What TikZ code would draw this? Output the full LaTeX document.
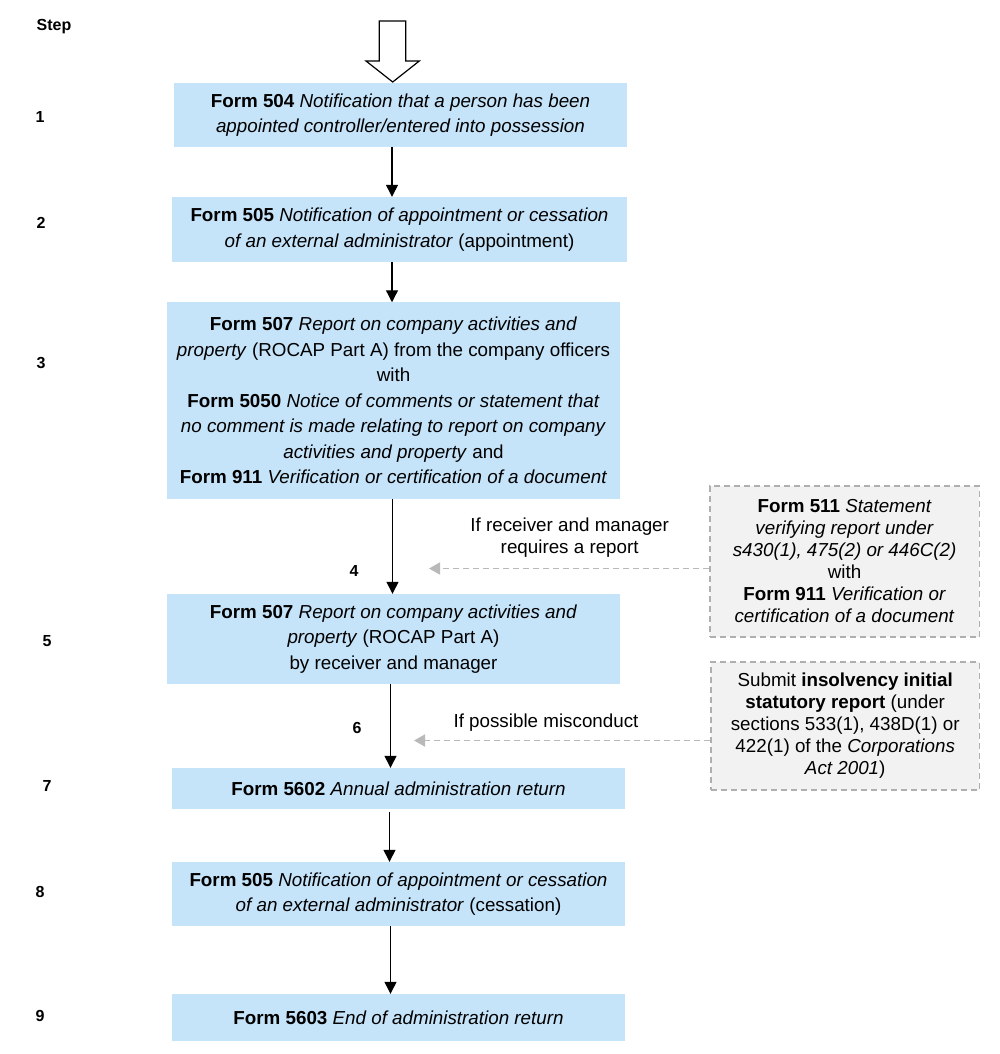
\documentclass[tikz,border=0pt]{standalone}
\usepackage{fontspec}
\setmainfont{Liberation Sans}
\usetikzlibrary{arrows.meta}
\definecolor{boxblue}{RGB}{197,227,249}
\definecolor{grayfill}{RGB}{242,242,242}
\definecolor{grayline}{RGB}{175,175,175}
\definecolor{grayarrow}{RGB}{185,185,185}
\tikzset{
  bluebox/.style={fill=boxblue, draw=none, inner sep=0pt, align=center,
    minimum width=453pt, font=\fontsize{18.8}{25.5}\selectfont},
  graybox/.style={fill=grayfill, draw=grayline, line width=1.3pt, dash pattern=on 6pt off 4pt,
    inner sep=0pt, align=center, font=\fontsize{18.8}{22}\selectfont},
  steplabel/.style={font=\fontsize{16}{19}\selectfont\bfseries, inner sep=0pt},
  condlabel/.style={align=center, inner sep=0pt, font=\fontsize{18.8}{22}\selectfont},
  flow/.style={line width=1.3pt, -{Triangle[length=12pt,width=12pt]}},
  optflow/.style={grayarrow, line width=1.8pt, dash pattern=on 6pt off 4pt,
    -{Triangle[length=11pt,width=12pt]}},
}
\begin{document}
\begin{tikzpicture}[x=1pt,y=-1pt]
\useasboundingbox (0,0) rectangle (1000,1054);

% entry arrow
\draw[line width=1.2pt, fill=white, line join=miter]
  (379.3,21) -- (405.7,21) -- (405.7,61) -- (419.3,61) -- (392.7,82)
  -- (366,61) -- (379.3,61) -- cycle;

% step labels
\node[steplabel] (st) at (54,27) {Step};
\node[steplabel] (s1) at (40,117) {1};
\node[steplabel] (s2) at (41,223) {2};
\node[steplabel] (s3) at (41,363) {3};
\node[steplabel] (s4) at (354,571) {4};
\node[steplabel] (s5) at (47,641) {5};
\node[steplabel] (s6) at (357,728) {6};
\node[steplabel] (s7) at (47,786) {7};
\node[steplabel] (s8) at (40,892) {8};
\node[steplabel] (s9) at (40,1016) {9};

% main boxes
\node[bluebox, minimum height=64pt] (b1) at (400.5,115)
  {\textbf{Form 504} \textit{Notification that a person has been}\\
   \textit{appointed controller/entered into possession}};
\node[bluebox, minimum height=65pt, minimum width=455pt] (b2) at (399.5,229.5)
  {\textbf{Form 505} \textit{Notification of appointment or cessation}\\
   \textit{of an external administrator} (appointment)};
\node[bluebox, minimum height=196.5pt] (b3) at (393.5,400.7)
  {\textbf{Form 507} \textit{Report on company activities and}\\
   \textit{property} (ROCAP Part A) from the company officers\\
   with\\
   \textbf{Form 5050} \textit{Notice of comments or statement that}\\
   \textit{no comment is made relating to report on company}\\
   \textit{activities and property} and\\
   \textbf{Form 911} \textit{Verification or certification of a document}};
\node[bluebox, minimum height=90pt] (b5) at (393.5,639)
  {\textbf{Form 507} \textit{Report on company activities and}\\
   \textit{property} (ROCAP Part A)\\
   by receiver and manager};
\node[bluebox, minimum height=41pt] (b7) at (398.5,788.5)
  {\textbf{Form 5602} \textit{Annual administration return}};
\node[bluebox, minimum height=64pt] (b8) at (398.5,894)
  {\textbf{Form 505} \textit{Notification of appointment or cessation}\\
   \textit{of an external administrator} (cessation)};
\node[bluebox, minimum height=47pt] (b9) at (398.5,1017.5)
  {\textbf{Form 5603} \textit{End of administration return}};

% side boxes
\node[graybox, minimum width=269.5pt, minimum height=151pt] (g1) at (844.6,561.5)
  {\textbf{Form 511} \textit{Statement}\\
   \textit{verifying report under}\\
   \textit{s430(1), 475(2) or 446C(2)}\\
   with\\
   \textbf{Form 911} \textit{Verification or}\\
   \textit{certification of a document}};
\node[graybox, minimum width=268.5pt, minimum height=128pt] (g2) at (845.2,726)
  {Submit \textbf{insolvency initial}\\
   \textbf{statutory report} (under\\
   sections 533(1), 438D(1) or\\
   422(1) of the \textit{Corporations}\\
   \textit{Act 2001})};

% condition labels
\node[condlabel] (c1) at (569.7,537.5) {If receiver and manager\\ requires a report};
\node[condlabel] (c2) at (546,723) {If possible misconduct};

% connectors
\coordinate (x1) at (392,0);
\coordinate (x2) at (392.5,0);
\coordinate (x3) at (390.5,0);
\coordinate (x4) at (389.5,0);
\draw[flow] (b1.south -| x1) -- (b2.north -| x1);
\draw[flow] (b2.south -| x1) -- (b3.north -| x1);
\draw[flow] (b3.south -| x2) -- (b5.north -| x2);
\draw[flow] (b5.south -| x3) -- (b7.north -| x3);
\draw[flow] ([yshift=-3pt]b7.south -| x4) -- (b8.north -| x4);
\draw[flow] (b8.south -| x3) -- (b9.north -| x3);

\coordinate (t1) at (429,568.5);
\coordinate (t2) at (414,740.5);
\draw[optflow] (g1.west |- t1) -- (t1);
\draw[optflow] (g2.west |- t2) -- (t2);
\end{tikzpicture}
\end{document}
